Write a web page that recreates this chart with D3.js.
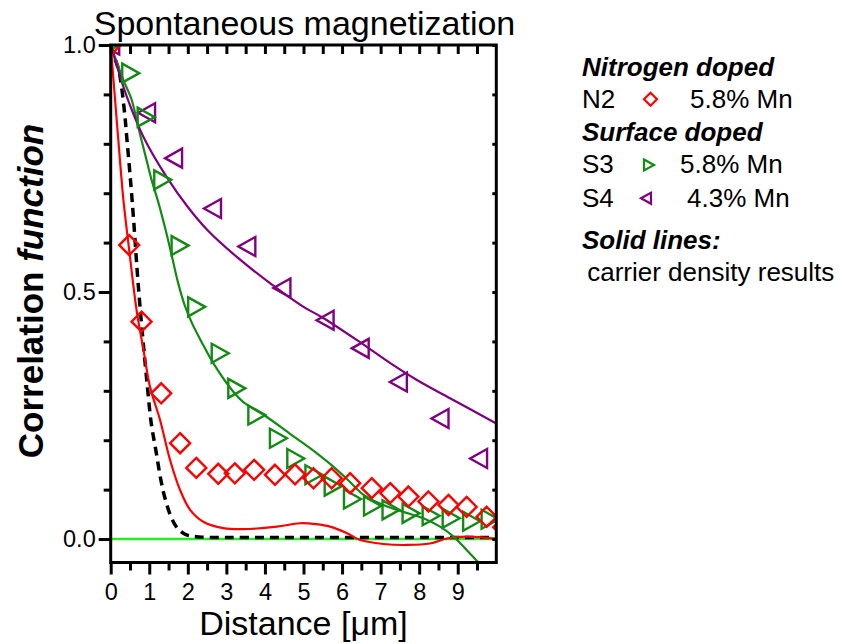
<!DOCTYPE html>
<html><head><meta charset="utf-8">
<script src="https://cdn.jsdelivr.net/npm/d3@7"></script>
<style>
html,body{margin:0;padding:0;background:#fff;}
text{font-family:"Liberation Sans",Arial,sans-serif;}
</style></head>
<body>
<svg id="chart" width="841" height="644"></svg>
<script>
// ---- data ----
const n2X = [0, 0.48, 0.80, 1.31, 1.80, 2.22, 2.79, 3.22, 3.72, 4.26, 4.78, 5.26, 5.73, 6.21, 6.77, 7.25, 7.72, 8.24, 8.76, 9.23, 9.75, 10.18];
const n2Y = [1.0, 0.595, 0.440, 0.295, 0.194, 0.144, 0.132, 0.133, 0.140, 0.130, 0.131, 0.123, 0.123, 0.113, 0.103, 0.093, 0.086, 0.076, 0.069, 0.065, 0.045, 0.024];

const s3X = [0, 0.52, 0.92, 1.35, 1.80, 2.23, 2.84, 3.27, 3.79, 4.35, 4.80, 5.27, 5.77, 6.27, 6.79, 7.27, 7.79, 8.31, 8.83, 9.36, 9.84];
const s3Y = [1.0, 0.943, 0.854, 0.727, 0.594, 0.470, 0.376, 0.305, 0.251, 0.204, 0.163, 0.130, 0.107, 0.081, 0.067, 0.059, 0.052, 0.047, 0.042, 0.036, 0.040];

const s4X = [0, 0.93, 1.63, 2.64, 3.53, 4.44, 5.56, 6.47, 7.46, 8.54, 9.54];
const s4Y = [1.0, 0.863, 0.771, 0.669, 0.592, 0.508, 0.443, 0.386, 0.318, 0.244, 0.163];

// solid lines: carrier density results
const lineN2X = [0, 0.24, 0.33, 0.48, 0.67, 0.85, 1.02, 1.28, 1.54, 1.80, 2.06, 2.40, 2.92, 3.44, 4.31, 4.91, 5.33, 5.69, 6.12, 6.47, 7.07, 7.68, 8.28, 8.72, 9.23, 9.67, 10.0];
const lineN2Y = [1.0, 0.767, 0.686, 0.585, 0.464, 0.383, 0.308, 0.241, 0.160, 0.099, 0.059, 0.035, 0.022, 0.020, 0.025, 0.032, 0.030, 0.025, 0.012, -0.002, -0.010, -0.012, -0.009, 0.001, 0.005, 0.003, 0.001];

const lineS3X = [0, 0.33, 0.54, 0.72, 0.93, 1.06, 1.23, 1.41, 1.58, 1.75, 1.92, 2.12, 2.35, 2.66, 3.18, 3.44, 4.05, 4.65, 5.17, 5.69, 6.16, 6.55, 7.07, 7.59, 8.11, 8.54, 8.89, 9.23, 9.58];
const lineS3Y = [1.0, 0.929, 0.890, 0.832, 0.767, 0.727, 0.683, 0.630, 0.575, 0.518, 0.473, 0.435, 0.400, 0.356, 0.298, 0.277, 0.247, 0.213, 0.184, 0.152, 0.119, 0.090, 0.069, 0.055, 0.042, 0.025, 0.005, -0.022, -0.051];

const lineS4X = [0, 0.42, 0.85, 1.45, 2.0, 2.5, 3.27, 4.13, 5.0, 5.5, 6.38, 7.25, 7.94, 8.8, 10.0];
const lineS4Y = [1.0, 0.895, 0.814, 0.733, 0.672, 0.626, 0.571, 0.518, 0.470, 0.448, 0.403, 0.356, 0.322, 0.285, 0.234];

// dashed black reference curve
const dashX = [0, 0.1, 0.22, 0.35, 0.42, 0.52, 0.6, 0.68, 0.75, 0.84, 0.95, 1.05, 1.17, 1.3, 1.4, 1.58, 1.75, 1.95, 2.3, 3, 4, 5, 6, 7, 8, 9, 10];
const dashY = [1.0, 0.975, 0.945, 0.87, 0.81, 0.72, 0.64, 0.55, 0.48, 0.40, 0.31, 0.235, 0.18, 0.12, 0.085, 0.042, 0.02, 0.009, 0.004, 0.003, 0.003, 0.003, 0.003, 0.003, 0.003, 0.003, 0.003];

const zeroLineX = [0, 10];
const zeroLineY = [0, 0];

const xMajorTicks = [0, 1, 2, 3, 4, 5, 6, 7, 8, 9];
const xMinorTicks = [0.5, 1.5, 2.5, 3.5, 4.5, 5.5, 6.5, 7.5, 8.5, 9.5];
const yMajorTicks = [0, 0.5, 1.0];
const yMinorTicks = [0.1, 0.2, 0.3, 0.4, 0.6, 0.7, 0.8, 0.9];

const titleText = "Spontaneous magnetization";
const xTitle = "Distance [\u03bcm]";

// ---- layout ----
const svg = d3.select("#chart");
const L = 110.7, R = 496.3, T = 45, B = 562.5;
const x = d3.scaleLinear().domain([0, 10]).range([L, R]);
const y = d3.scaleLinear().domain([-0.0475, 1.0]).range([B, T]);

const RED = "#ff0000", GREEN = "#138a13", PURPLE = "#800080";

const defs = svg.append("defs");
defs.append("clipPath").attr("id", "clip").append("rect")
  .attr("x", L).attr("y", T).attr("width", R - L).attr("height", B - T);

const plot = svg.append("g").attr("clip-path", "url(#clip)");

const zip = (xs, ys) => xs.map((v, i) => [v, ys[i]]);
const line = d3.line().x(d => x(d[0])).y(d => y(d[1])).curve(d3.curveCatmullRom.alpha(0.5));

// zero line
plot.append("path").datum(zip(zeroLineX, zeroLineY)).attr("d", line)
  .attr("fill", "none").attr("stroke", "#22ee22").attr("stroke-width", 2.5);

// dashed
plot.append("path").datum(zip(dashX, dashY)).attr("d", line)
  .attr("fill", "none").attr("stroke", "#000").attr("stroke-width", 3.5)
  .attr("stroke-dasharray", "9,6");

// solid lines
[[lineN2X, lineN2Y, RED], [lineS3X, lineS3Y, GREEN], [lineS4X, lineS4Y, PURPLE]].forEach(([xs, ys, c]) => {
  plot.append("path").datum(zip(xs, ys)).attr("d", line)
    .attr("fill", "none").attr("stroke", c).attr("stroke-width", 2.2);
});

// marker shapes
const diamond = r => `M0,${-r}L${r},0L0,${r}L${-r},0Z`;
const triRight = (w, h) => `M${-w/2},${-h/2}L${w/2},0L${-w/2},${h/2}Z`;
const triLeft = (w, h) => `M${w/2},${-h/2}L${-w/2},0L${w/2},${h/2}Z`;

function markers(xs, ys, pathStr, color) {
  plot.append("g").selectAll("path").data(zip(xs, ys)).join("path")
    .attr("transform", d => `translate(${x(d[0])},${y(d[1])})`)
    .attr("d", pathStr).attr("fill", "none").attr("stroke", color)
    .attr("stroke-width", 2.4);
}
markers(s4X, s4Y, triLeft(17, 19), PURPLE);
markers(s3X, s3Y, triRight(17, 19), GREEN);
markers(n2X, n2Y, diamond(10), RED);

// ---- axes ----
const axStyle = g => {
  g.selectAll(".domain").remove();
  g.selectAll(".tick line").attr("stroke", "#000").attr("stroke-width", 3);
  g.selectAll(".tick text").attr("font-size", 23.5).attr("fill", "#000")
    .attr("font-family", "'Liberation Sans', Arial, sans-serif");
};
// bottom
svg.append("g").attr("transform", `translate(0,${B})`)
  .call(d3.axisBottom(x).tickValues(xMajorTicks).tickSize(12).tickPadding(9).tickFormat(d3.format("d")))
  .call(axStyle);
svg.append("g").attr("transform", `translate(0,${B})`)
  .call(d3.axisBottom(x).tickValues(xMinorTicks).tickSize(8).tickFormat(""))
  .call(axStyle);
// top (inward)
svg.append("g").attr("transform", `translate(0,${T})`)
  .call(d3.axisBottom(x).tickValues(xMajorTicks.concat(xMinorTicks)).tickSize(9).tickFormat(""))
  .call(axStyle);
// left
svg.append("g").attr("transform", `translate(${L},0)`)
  .call(d3.axisLeft(y).tickValues(yMajorTicks).tickSize(12).tickPadding(3).tickFormat(d3.format(".1f")))
  .call(axStyle);
svg.append("g").attr("transform", `translate(${L},0)`)
  .call(d3.axisLeft(y).tickValues(yMinorTicks).tickSize(7).tickFormat(""))
  .call(axStyle);
// right (inward)
svg.append("g").attr("transform", `translate(${R},0)`)
  .call(d3.axisLeft(y).tickValues(yMajorTicks.concat(yMinorTicks)).tickSize(4).tickFormat(""))
  .call(axStyle);

// frame
svg.append("rect").attr("x", L).attr("y", T).attr("width", R - L).attr("height", B - T)
  .attr("fill", "none").attr("stroke", "#000").attr("stroke-width", 3);

// titles
svg.append("text").attr("x", (L + R) / 2 + 1).attr("y", 35).attr("text-anchor", "middle")
  .attr("font-size", 34).attr("fill", "#000").text(titleText);
svg.append("text").attr("x", (L + R) / 2).attr("y", 635).attr("text-anchor", "middle")
  .attr("font-size", 34).attr("fill", "#000").text(xTitle);
const yt = svg.append("text").attr("transform", "translate(43,291) rotate(-90)")
  .attr("text-anchor", "middle").attr("font-size", 35).attr("font-weight", "bold").attr("fill", "#000");
yt.append("tspan").text("Correlation ");
yt.append("tspan").attr("font-style", "italic").text("function");

// ---- legend ----
const lg = svg.append("g");
const lt = (tx, ty, s, bold, italic) => lg.append("text").attr("x", tx).attr("y", ty)
  .attr("font-size", 26).attr("fill", "#000")
  .attr("font-weight", bold ? "bold" : "normal").attr("font-style", italic ? "italic" : "normal").text(s);
lt(582, 76, "Nitrogen doped", true, true);
lt(582, 107.5, "N2", false, false);
lt(690, 107.5, "5.8% Mn", false, false);
lt(582, 141, "Surface doped", true, true);
lt(582, 172.5, "S3", false, false);
lt(680, 172.5, "5.8% Mn", false, false);
lt(582, 207, "S4", false, false);
lt(687, 207, "4.3% Mn", false, false);
lt(582, 249, "Solid lines:", true, true);
lt(580, 281, "\u00a0carrier density results", false, false);
lg.append("path").attr("transform", "translate(650.5,99.3)").attr("d", diamond(6.5))
  .attr("fill", "none").attr("stroke", RED).attr("stroke-width", 2.2);
lg.append("path").attr("transform", "translate(649,165)").attr("d", triRight(10, 11))
  .attr("fill", "none").attr("stroke", GREEN).attr("stroke-width", 2.2);
lg.append("path").attr("transform", "translate(646,198.3)").attr("d", triLeft(10, 11))
  .attr("fill", "none").attr("stroke", PURPLE).attr("stroke-width", 2.2);
</script>
</body></html>
